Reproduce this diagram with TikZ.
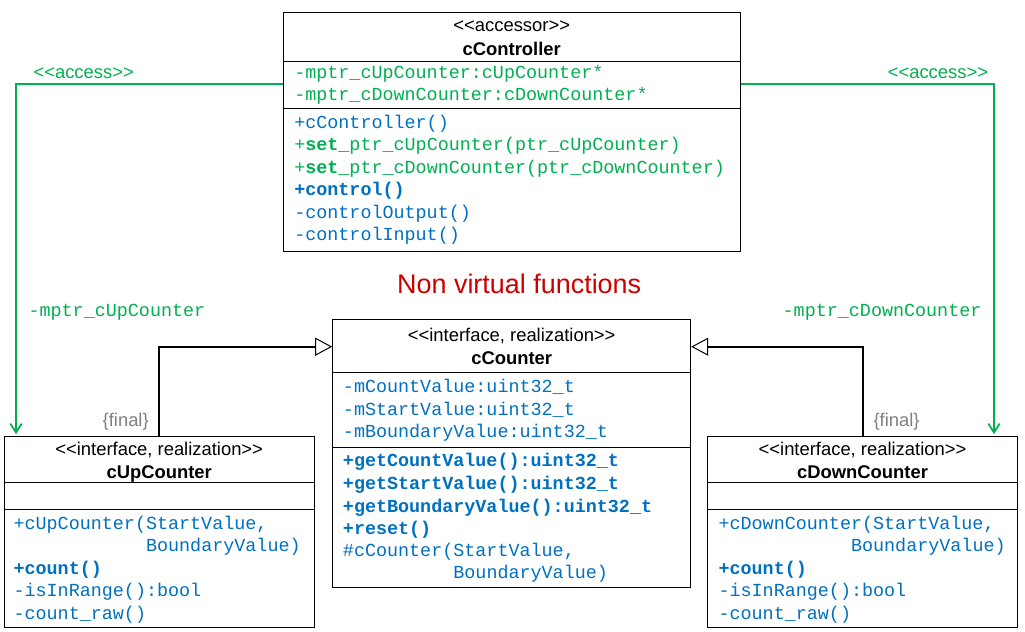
\documentclass[tikz,border=0pt]{standalone}
\usepackage{fontspec}
\setmainfont{Liberation Sans}
\setmonofont{Liberation Mono}
\usetikzlibrary{arrows.meta,fit,calc}
\definecolor{umlgreen}{HTML}{00B050}
\definecolor{umlblue}{HTML}{0070C0}
\definecolor{umlred}{HTML}{CC0000}
\definecolor{umlgray}{HTML}{808080}
\tikzset{
  classbox/.style={draw=black, line width=0.75pt, inner sep=0pt},
  sep/.style={draw=black, line width=0.75pt},
  hdr/.style={inner sep=0pt, anchor=base, font=\fontsize{13.8}{16}\selectfont},
  hdrb/.style={inner sep=0pt, anchor=base, font=\fontsize{13.8}{16}\selectfont\bfseries},
  mg/.style={inner sep=0pt, anchor=base west, text=umlgreen, font=\fontsize{13.8}{16}\selectfont\ttfamily},
  mb/.style={inner sep=0pt, anchor=base west, text=umlblue, font=\fontsize{13.8}{16}\selectfont\ttfamily},
  mbb/.style={inner sep=0pt, anchor=base west, text=umlblue, font=\fontsize{13.8}{16}\selectfont\ttfamily\bfseries},
  acclabel/.style={inner sep=0pt, text=umlgreen, font=\fontsize{13.8}{16}\selectfont},
  rolelabel/.style={inner sep=0pt, text=umlgreen, font=\fontsize{13.8}{16}\selectfont\ttfamily},
  finallabel/.style={inner sep=0pt, text=umlgray, font=\fontsize{13.8}{16}\selectfont},
  accessline/.style={draw=umlgreen, line width=1.3pt, -{Straight Barb[length=6.75pt,width=8.5pt,line width=1.3pt]}, shorten >=1.5pt},
  genline/.style={draw=black, line width=1.5pt, -{Triangle[open,length=12.75pt,width=13.5pt,line width=0.75pt,fill=white]}}
}
\begin{document}
\begin{tikzpicture}[x=0.75pt,y=-0.75pt]
\useasboundingbox (0,0) rectangle (1025,632);

% ---------- cController ----------
\node[classbox, fit={(283.3,12.7) (740,251)}] (ctrl) {};
\draw[sep] (283.3,61) -- (740,61);
\draw[sep] (283.3,108.7) -- (740,108.7);
\node[hdr]  (ctrlS) at (511.7,31.7) {<{}<accessor>{}>};
\node[hdrb] (ctrlN) at (511.7,55) {cController};
\node[mg] (ctrlA1) at (294,78) {-mptr\_cUpCounter:cUpCounter*};
\node[mg] (ctrlA2) at (294,100.5) {-mptr\_cDownCounter:cDownCounter*};
\node[mb] (ctrlM1) at (294,128) {+cController()};
\node[mg] (ctrlM2) at (294,150.5) {+\textbf{set}\_ptr\_cUpCounter(ptr\_cUpCounter)};
\node[mg] (ctrlM3) at (294,173) {+\textbf{set}\_ptr\_cDownCounter(ptr\_cDownCounter)};
\node[mbb] (ctrlM4) at (294,195.5) {+control()};
\node[mb] (ctrlM5) at (294,218) {-controlOutput()};
\node[mb] (ctrlM6) at (294,240.5) {-controlInput()};

% ---------- title ----------
\node[inner sep=0pt, anchor=base, text=umlred, font=\fontsize{20.2}{24}\selectfont] (title) at (519.2,293.3) {Non virtual functions};

% ---------- cCounter ----------
\node[classbox, fit={(332.7,319.7) (690.7,587.3)}] (cnt) {};
\draw[sep] (332.7,372.3) -- (690.7,372.3);
\draw[sep] (332.7,447.3) -- (690.7,447.3);
\node[hdr]  (cntS) at (511.7,341.7) {<{}<interface, realization>{}>};
\node[hdrb] (cntN) at (511.7,364.3) {cCounter};
\node[mb] (cntA1) at (342.7,392.3) {-mCountValue:uint32\_t};
\node[mb] (cntA2) at (342.7,415) {-mStartValue:uint32\_t};
\node[mb] (cntA3) at (342.7,437.7) {-mBoundaryValue:uint32\_t};
\node[mbb] (cntM1) at (342.7,466.7) {+getCountValue():uint32\_t};
\node[mbb] (cntM2) at (342.7,489.3) {+getStartValue():uint32\_t};
\node[mbb] (cntM3) at (342.7,512) {+getBoundaryValue():uint32\_t};
\node[mbb] (cntM4) at (342.7,534) {+reset()};
\node[mb] (cntM5) at (342.7,556) {\#cCounter(StartValue,};
\node[mb] (cntM6) at (342.7,578.5) {\phantom{\#cCounter(}BoundaryValue)};

% ---------- cUpCounter ----------
\node[classbox, fit={(4,436.7) (314.3,627.7)}] (up) {};
\draw[sep] (4,482.7) -- (314.3,482.7);
\draw[sep] (4,509.3) -- (314.3,509.3);
\node[hdr]  (upS) at (159.2,455) {<{}<interface, realization>{}>};
\node[hdrb] (upN) at (159.2,478.3) {cUpCounter};
\node[mb] (upM1) at (13.3,529.3) {+cUpCounter(StartValue,};
\node[mb] (upM2) at (13.3,551.7) {\phantom{+cUpCounter(}BoundaryValue)};
\node[mbb] (upM3) at (13.3,574) {+count()};
\node[mb] (upM4) at (13.3,596.7) {-isInRange():bool};
\node[mb] (upM5) at (13.3,619.3) {-count\_raw()};

% ---------- cDownCounter ----------
\node[classbox, fit={(707.7,436.7) (1017.3,627.7)}] (down) {};
\draw[sep] (707.7,482.7) -- (1017.3,482.7);
\draw[sep] (707.7,509.3) -- (1017.3,509.3);
\node[hdr]  (downS) at (862.5,455) {<{}<interface, realization>{}>};
\node[hdrb] (downN) at (862.5,478.3) {cDownCounter};
\node[mb] (downM1) at (718.3,529.3) {+cDownCounter(StartValue,};
\node[mb] (downM2) at (718.3,551.7) {\phantom{+cUpCounter(}BoundaryValue)};
\node[mbb] (downM3) at (718.3,574) {+count()};
\node[mb] (downM4) at (718.3,596.7) {-isInRange():bool};
\node[mb] (downM5) at (718.3,619.3) {-count\_raw()};

% ---------- access connectors ----------
\coordinate (accL) at (16,84);
\coordinate (accR) at (994,84);
\draw[accessline] (ctrl.west |- accL) -| (up.north -| accL);
\draw[accessline] (ctrl.east |- accR) -| (down.north -| accR);
\node[acclabel, anchor=base west] (accLlab) at (33.3,78.3) {<{}<access>{}>};
\node[acclabel, anchor=base east] (accRlab) at (988.3,78.3) {<{}<access>{}>};
\node[rolelabel, anchor=base west] (roleL) at (28.3,316.7) {-mptr\_cUpCounter};
\node[rolelabel, anchor=base east] (roleR) at (981.7,316.7) {-mptr\_cDownCounter};

% ---------- generalization connectors ----------
\coordinate (genL) at (159,346.7);
\coordinate (genR) at (862.7,346.7);
\draw[genline] (up.north -| genL) |- (cnt.west |- genL);
\draw[genline] (down.north -| genR) |- (cnt.east |- genR);
\node[finallabel, anchor=base east] (finL) at (149,426.7) {\{final\}};
\node[finallabel, anchor=base west] (finR) at (873.3,426.7) {\{final\}};
\end{tikzpicture}
\end{document}
